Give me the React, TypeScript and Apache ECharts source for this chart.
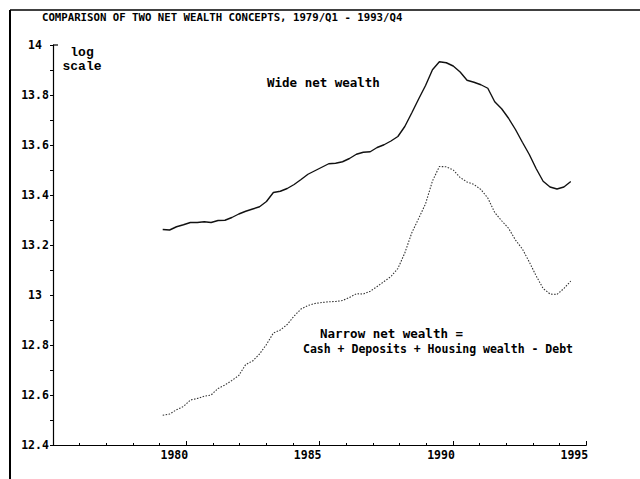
import React, { useEffect, useRef } from "react";
import * as echarts from "echarts";

// Quarterly data, 1979/Q1 .. 1993/Q4 (log scale values)
const quarters: string[] = [];
for (let y = 1979; y <= 1993; y++) for (let q = 1; q <= 4; q++) quarters.push(`${y}/Q${q}`);

const wideNetWealth = [
  13.262, 13.260, 13.273, 13.281, 13.290, 13.290, 13.293, 13.290, 13.298, 13.299,
  13.310, 13.324, 13.335, 13.344, 13.353, 13.374, 13.410, 13.415, 13.426, 13.442,
  13.462, 13.483, 13.497, 13.511, 13.525, 13.527, 13.533, 13.546, 13.563, 13.571,
  13.573, 13.590, 13.601, 13.616, 13.634, 13.674, 13.728, 13.784, 13.838, 13.901,
  13.933, 13.929, 13.916, 13.892, 13.859, 13.851, 13.841, 13.827, 13.773, 13.745,
  13.707, 13.662, 13.611, 13.562, 13.505, 13.455, 13.432, 13.424, 13.432, 13.454,
];

const narrowNetWealth = [
  12.519, 12.524, 12.541, 12.554, 12.580, 12.586, 12.595, 12.600, 12.626, 12.640,
  12.658, 12.678, 12.722, 12.736, 12.764, 12.802, 12.848, 12.860, 12.882, 12.916,
  12.944, 12.958, 12.966, 12.970, 12.973, 12.974, 12.978, 12.990, 13.005, 13.004,
  13.015, 13.034, 13.054, 13.074, 13.106, 13.168, 13.248, 13.306, 13.365, 13.456,
  13.514, 13.513, 13.500, 13.470, 13.452, 13.442, 13.422, 13.388, 13.330, 13.297,
  13.267, 13.220, 13.184, 13.132, 13.076, 13.026, 13.004, 13.002, 13.026, 13.056,
];

const yearTicks = [1980, 1985, 1990, 1995];
const titleText = "COMPARISON OF TWO NET WEALTH CONCEPTS, 1979/Q1 - 1993/Q4";

const MONO = "'DejaVu Sans Mono', 'Liberation Mono', monospace";

export default function App() {
  const ref = useRef<HTMLDivElement>(null);
  useEffect(() => {
    if (!ref.current) return;
    const chart = echarts.init(ref.current, undefined, { renderer: "svg" });
    const toPairs = (arr: number[]) => arr.map((v, i) => [i, v]);
    chart.setOption({
      animation: false,
      backgroundColor: "#fff",
      grid: { left: 53, top: 45, width: 533.3, height: 400 },
      xAxis: [
        {
          type: "value",
          min: 1975,
          max: 1995,
          interval: 5,
          axisLine: { show: true, onZero: false, lineStyle: { color: "#000", width: 1.2 } },
          axisTick: { show: true, inside: true, length: 4, lineStyle: { color: "#000" } },
          minorTick: { show: true, splitNumber: 5, length: 2, lineStyle: { color: "#000" } },
          splitLine: { show: false },
          axisLabel: {
            margin: 4,
            padding: [0, 24, 0, 0],
            color: "#000",
            fontFamily: MONO,
            fontWeight: "bold",
            fontSize: 11.5,
            formatter: (v: number) => (yearTicks.includes(v) ? String(v) : ""),
          },
        },
        {
          type: "value",
          show: false,
          min: -15.86,
          max: 61.24,
        },
      ],
      yAxis: {
        type: "value",
        min: 12.4,
        max: 14,
        interval: 0.2,
        axisLine: { show: true, onZero: false, lineStyle: { color: "#000", width: 1.2 } },
        axisTick: { show: true, length: 3, lineStyle: { color: "#000" } },
        minorTick: { show: true, splitNumber: 2, length: 3, lineStyle: { color: "#000" } },
        splitLine: { show: false },
        axisLabel: {
          align: "center",
          margin: 18,
          color: "#000",
          fontFamily: MONO,
          fontWeight: "bold",
          fontSize: 11.5,
          formatter: (v: number) => String(Math.round(v * 10) / 10),
        },
      },
      series: [
        {
          name: "Wide net wealth",
          type: "line",
          xAxisIndex: 1,
          data: toPairs(wideNetWealth),
          showSymbol: false,
          smooth: false,
          lineStyle: { color: "#111", width: 1.4 },
        },
        {
          name: "Narrow net wealth",
          type: "line",
          xAxisIndex: 1,
          data: toPairs(narrowNetWealth),
          showSymbol: false,
          smooth: false,
          lineStyle: { color: "#333", width: 1.1, type: [1.5, 1.5] },
        },
      ],
      graphic: [
        { type: "line", shape: { x1: 10, y1: 10, x2: 10, y2: 479 }, style: { stroke: "#000", lineWidth: 2 } },
        { type: "line", shape: { x1: 10, y1: 10, x2: 640, y2: 10 }, style: { stroke: "#000", lineWidth: 1.5 } },
        { type: "line", shape: { x1: 53, y1: 45, x2: 58, y2: 45 }, style: { stroke: "#000", lineWidth: 1.2 } },
        {
          type: "text",
          style: {
            text: titleText, x: 42, y: 17, fill: "#000",
            font: `bold 10.7px ${MONO}`, align: "left", verticalAlign: "middle",
            textAlign: "left", textVerticalAlign: "middle",
          },
        },
        {
          type: "text",
          style: {
            text: "log", x: 82, y: 52, fill: "#000",
            font: "bold 13px 'Liberation Mono', monospace", align: "center", verticalAlign: "middle",
            textAlign: "center", textVerticalAlign: "middle",
          },
        },
        {
          type: "text",
          style: {
            text: "scale", x: 82, y: 66, fill: "#000",
            font: "bold 13px 'Liberation Mono', monospace", align: "center", verticalAlign: "middle",
            textAlign: "center", textVerticalAlign: "middle",
          },
        },
        {
          type: "text",
          style: {
            text: "Wide net wealth", x: 267, y: 82, fill: "#000",
            font: `bold 12.5px ${MONO}`, align: "left", verticalAlign: "middle",
            textAlign: "left", textVerticalAlign: "middle",
          },
        },
        {
          type: "text",
          style: {
            text: "Narrow net wealth =", x: 320, y: 333, fill: "#000",
            font: `bold 12.5px ${MONO}`, align: "left", verticalAlign: "middle",
            textAlign: "left", textVerticalAlign: "middle",
          },
        },
        {
          type: "text",
          style: {
            text: "Cash + Deposits + Housing wealth - Debt", x: 303, y: 349, fill: "#000",
            font: `bold 11.5px ${MONO}`, align: "left", verticalAlign: "middle",
            textAlign: "left", textVerticalAlign: "middle",
          },
        },
      ],
    });
    return () => chart.dispose();
  }, []);
  return (
    <div
      ref={ref}
      style={{ position: "fixed", left: 0, top: 0, width: 640, height: 479, background: "#fff" }}
    />
  );
}
